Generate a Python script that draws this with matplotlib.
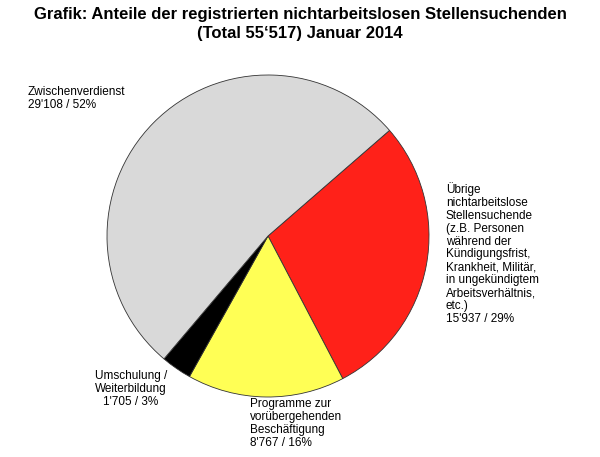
import matplotlib
matplotlib.use("Agg")
import matplotlib.pyplot as plt

categories = ["Übrige nichtarbeitslose Stellensuchende", "Programme zur vorübergehenden Beschäftigung", "Umschulung / Weiterbildung", "Zwischenverdienst"]
values = [15937, 8767, 1705, 29108]
colors = ["#FF2119", "#FFFF55", "#000000", "#D9D9D9"]

W, H = 600, 457
fig = plt.figure(figsize=(6, 4.57), dpi=100)
fig.patch.set_facecolor("white")
cx, cy, r = 268, 236, 161
ax = fig.add_axes([(cx - r) / W, 1 - (cy + r) / H, 2 * r / W, 2 * r / H])
ax.pie(values, colors=colors, startangle=41, counterclock=False,
       wedgeprops=dict(edgecolor="#333333", linewidth=0.6))
ax.set_aspect("equal")
ax.set_xlim(-1, 1); ax.set_ylim(-1, 1)

fig.text(0.5, 1 - 24 / H, "Grafik: Anteile der registrierten nichtarbeitslosen Stellensuchenden\n(Total 55‘517) Januar 2014",
         ha="center", va="center", fontsize=12, fontweight="bold", family="Liberation Sans", linespacing=1.3)

def lab(x, y, s, ha="left", ma="left"):
    fig.text(x / W, 1 - y / H, s, ha=ha, va="top", fontsize=8.5, family="Liberation Sans",
             linespacing=1.1, multialignment=ma)

lab(28, 86, "Zwischenverdienst\n29'108 / 52%")
lab(446, 182, "Übrige\nnichtarbeitslose\nStellensuchende\n(z.B. Personen\nwährend der\nKündigungsfrist,\nKrankheit, Militär,\nin ungekündigtem\nArbeitsverhältnis,\netc.)\n15'937 / 29%")
lab(167, 370, "Umschulung /\nWeiterbildung\n1'705 / 3%", ha="right", ma="center")
lab(250, 398, "Programme zur\nvorübergehenden\nBeschäftigung\n8'767 / 16%")

fig.savefig("out.png", dpi=100)
